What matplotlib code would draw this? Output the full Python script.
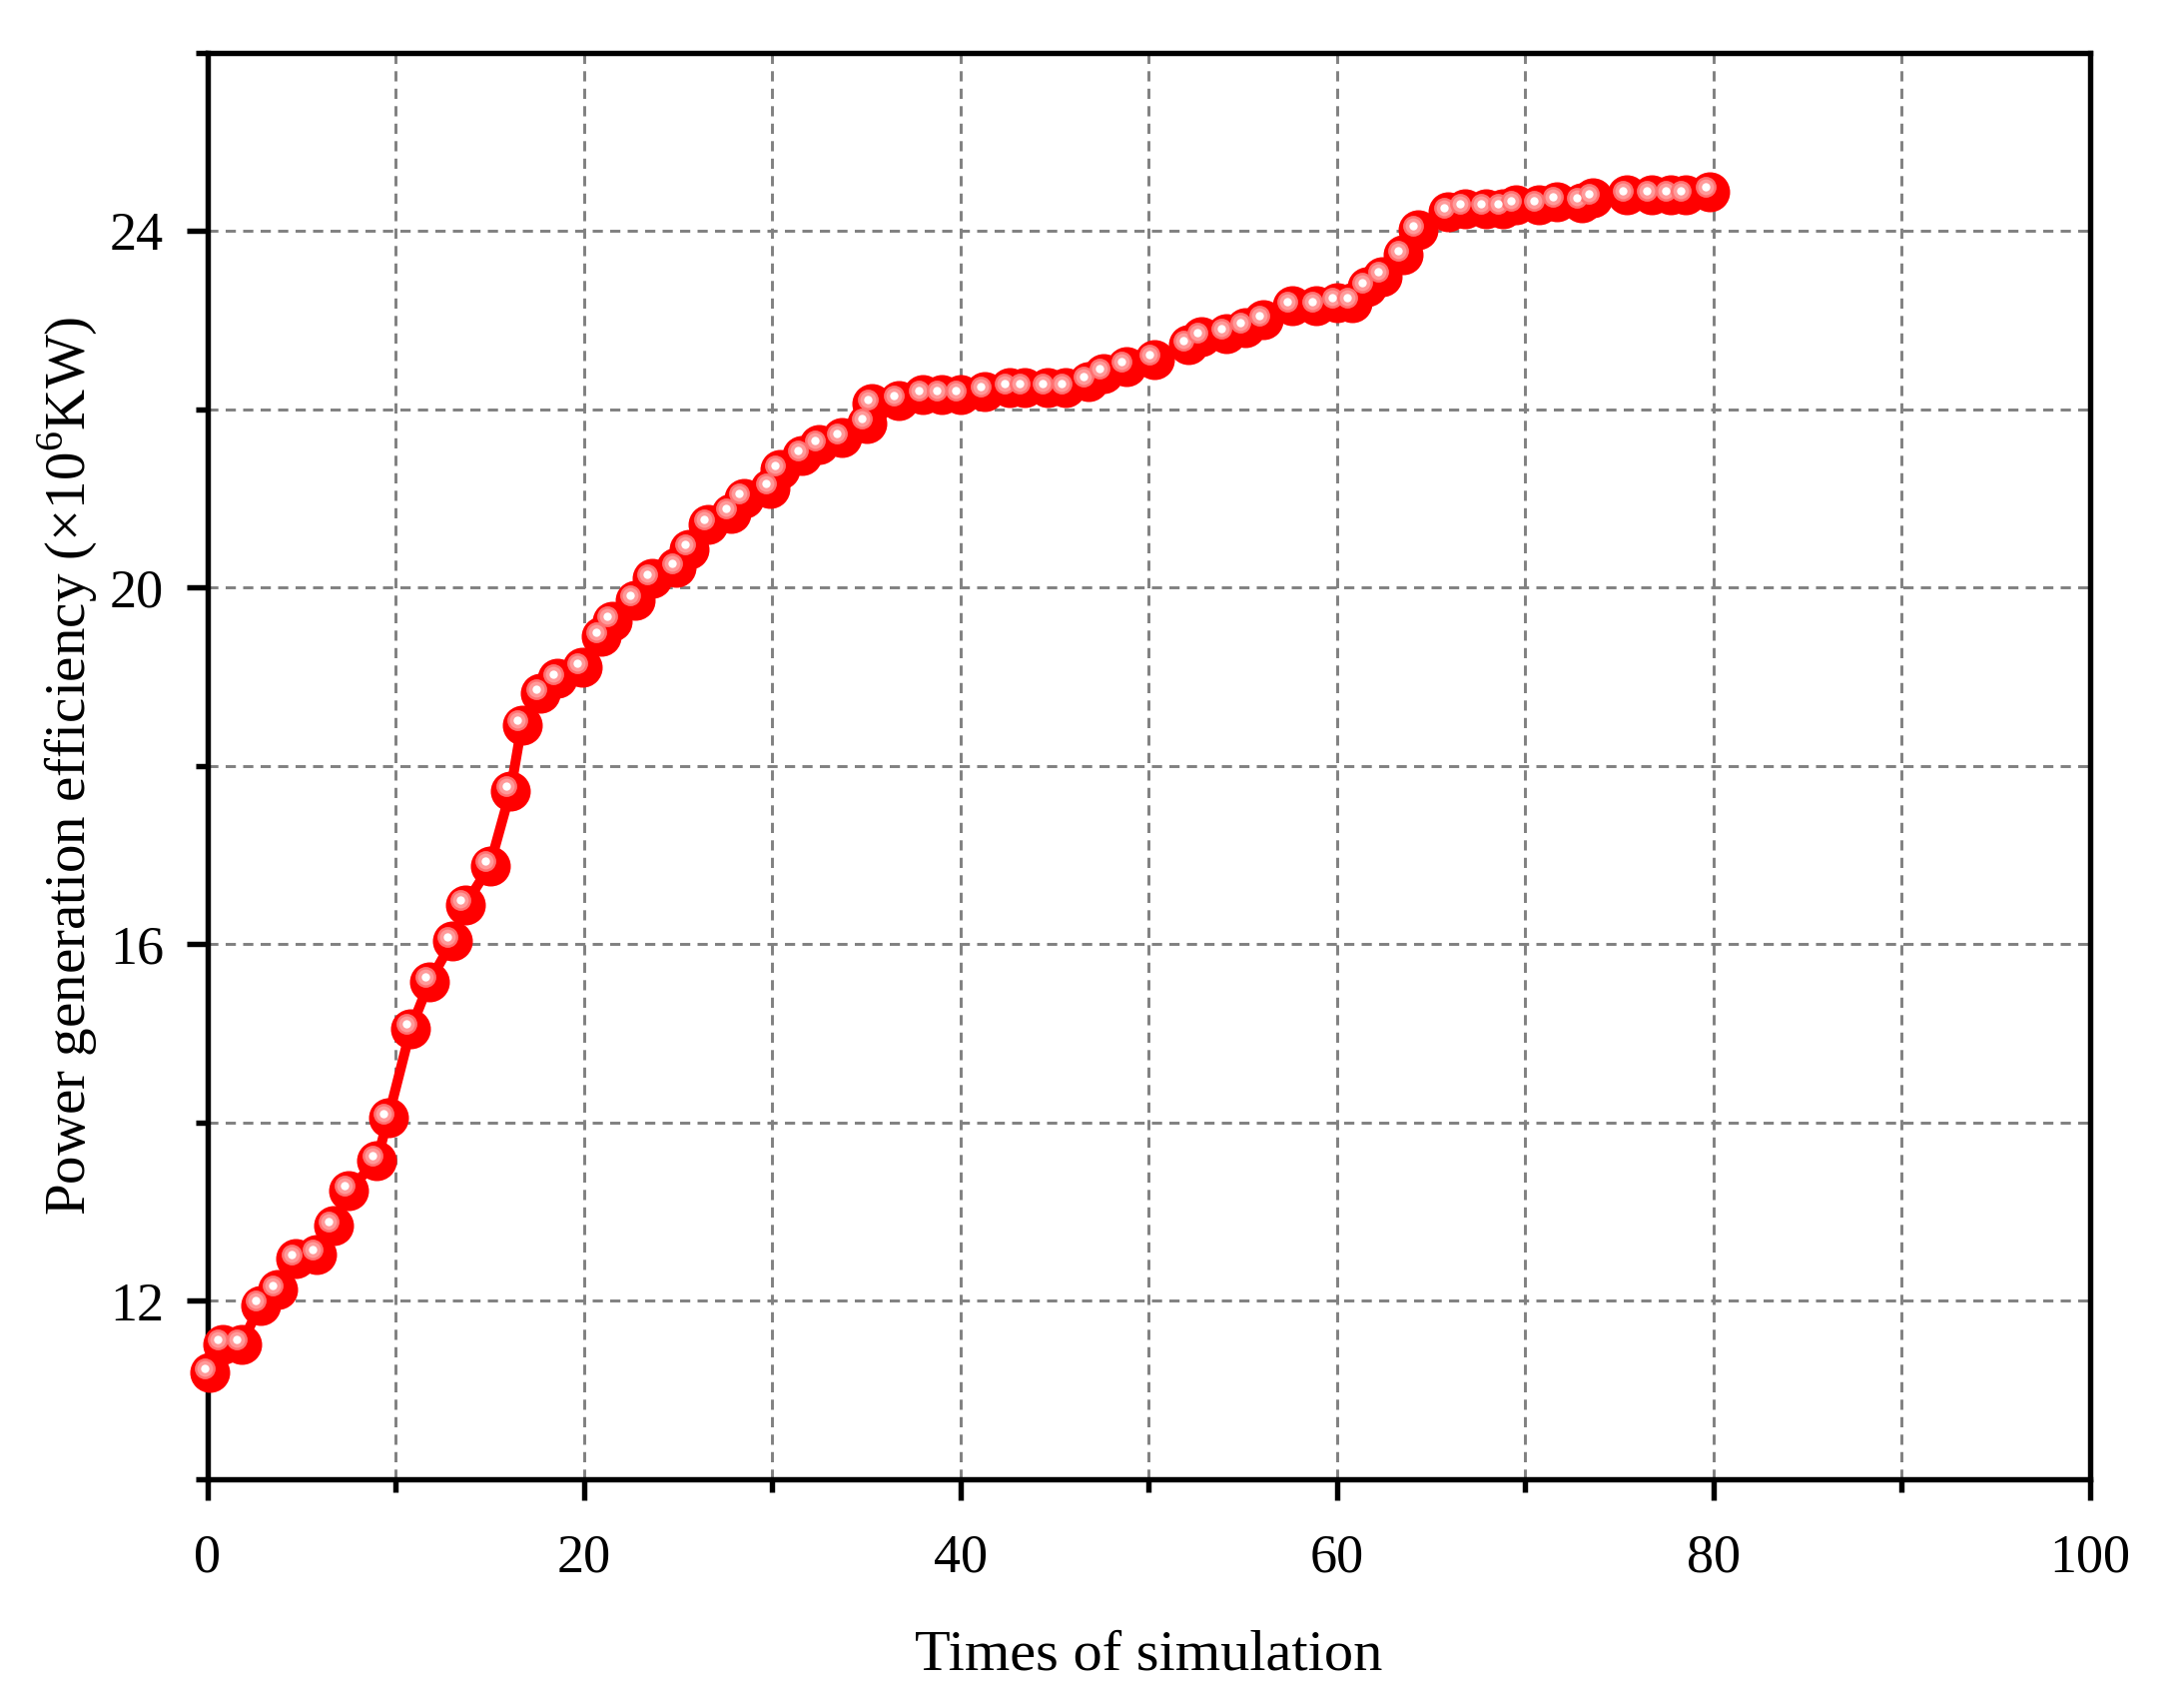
import matplotlib
matplotlib.use("Agg")
import matplotlib.pyplot as plt
import matplotlib.transforms as mtransforms
from matplotlib.ticker import MultipleLocator

plt.rcParams["font.family"] = ["Liberation Serif", "DejaVu Serif"]
plt.rcParams["mathtext.fontset"] = "custom"
plt.rcParams["mathtext.rm"] = "Liberation Serif"

# simulation runs (x) and power generation efficiency (y, x10^6 KW)
times = [
    0.1, 0.8, 1.8, 2.8, 3.7, 4.7, 5.8, 6.7, 7.5, 9.0, 9.6, 10.8, 11.8, 13.0,
    13.7, 15.0, 16.1, 16.7, 17.7, 18.6, 19.9,
    20.9, 21.5, 22.7, 23.6, 24.9, 25.6, 26.6, 27.8, 28.5, 29.9, 30.4, 31.6,
    32.5, 33.7, 35.0, 35.3, 36.7, 38.0, 39.0, 40.0, 41.3, 42.6, 43.4, 44.6,
    45.6,
    46.8, 47.6, 48.8, 50.3, 52.1, 52.8, 54.1, 55.1, 56.1, 57.6, 58.9, 60.0,
    60.8, 61.6, 62.4, 63.5, 64.3, 65.9, 66.8, 67.9, 68.8, 69.5, 70.7, 71.7,
    73.0, 73.6, 75.4, 76.7, 77.7, 78.5, 79.8,
]
efficiency = [
    11.19, 11.51, 11.51, 11.95, 12.12, 12.47, 12.52, 12.84, 13.24, 13.57,
    14.05, 15.05, 15.58, 16.03, 16.44, 16.88, 17.72, 18.46, 18.81, 18.98,
    19.10,
    19.45, 19.62, 19.86, 20.10, 20.22, 20.43, 20.71, 20.83, 21.00, 21.11,
    21.32, 21.48, 21.60, 21.68, 21.84, 22.06, 22.10, 22.16, 22.16, 22.16,
    22.20, 22.24, 22.24, 22.24, 22.24,
    22.31, 22.40, 22.48, 22.56, 22.72, 22.81, 22.85, 22.92, 23.00, 23.16,
    23.16, 23.20, 23.20, 23.37, 23.49, 23.73, 24.01, 24.21, 24.25, 24.25,
    24.25, 24.29, 24.29, 24.33, 24.32, 24.37, 24.40, 24.40, 24.40, 24.40,
    24.44,
]

fig = plt.figure(figsize=(7.29, 5.667), dpi=300)
ax = fig.add_axes([0.095, 0.129, 0.862, 0.840])

ax.plot(times, efficiency, color="#ff0000", lw=2.4, zorder=3)
# ball-like markers: red body, pink ring, white highlight
shift = mtransforms.offset_copy(ax.transData, fig=fig, x=-1.1, y=1.1, units="points")
ax.plot(times, efficiency, ls="none", marker="o", ms=8.6, mfc="#ff0000",
        mec="#ff0000", zorder=4, clip_on=False)
ax.plot(times, efficiency, ls="none", marker="o", ms=4.4, mfc="#ff9a9a",
        mec="#ff7070", mew=0.6, zorder=5, transform=shift, clip_on=False)
ax.plot(times, efficiency, ls="none", marker="o", ms=2.0, mfc="white",
        mec="white", mew=0, zorder=6, transform=shift, clip_on=False)

ax.set_xlim(0, 100)
ax.set_ylim(10, 26)
ax.xaxis.set_major_locator(MultipleLocator(20))
ax.xaxis.set_minor_locator(MultipleLocator(10))
ax.yaxis.set_major_locator(MultipleLocator(4))
ax.yaxis.set_minor_locator(MultipleLocator(2))
ax.set_yticks([12, 16, 20, 24])

ax.grid(which="both", color="#808080", lw=0.7, ls=(0, (3.5, 2.5)))
ax.set_axisbelow(True)

for sp in ax.spines.values():
    sp.set_linewidth(1.3)
ax.tick_params(which="major", direction="out", length=5, width=1.3,
               labelsize=13, top=False, right=False)
ax.tick_params(axis="x", which="major", pad=8)
ax.tick_params(axis="y", which="major", pad=5.5)
ax.tick_params(which="minor", direction="out", length=3, width=1.3,
               top=False, right=False)

ax.set_xlabel("Times of simulation", fontsize=14, labelpad=11)
ax.set_ylabel(r"Power generation efficiency ($\times$10$^6$KW)", fontsize=13.7,
              labelpad=2.5)

fig.savefig("out.png", dpi=300)
